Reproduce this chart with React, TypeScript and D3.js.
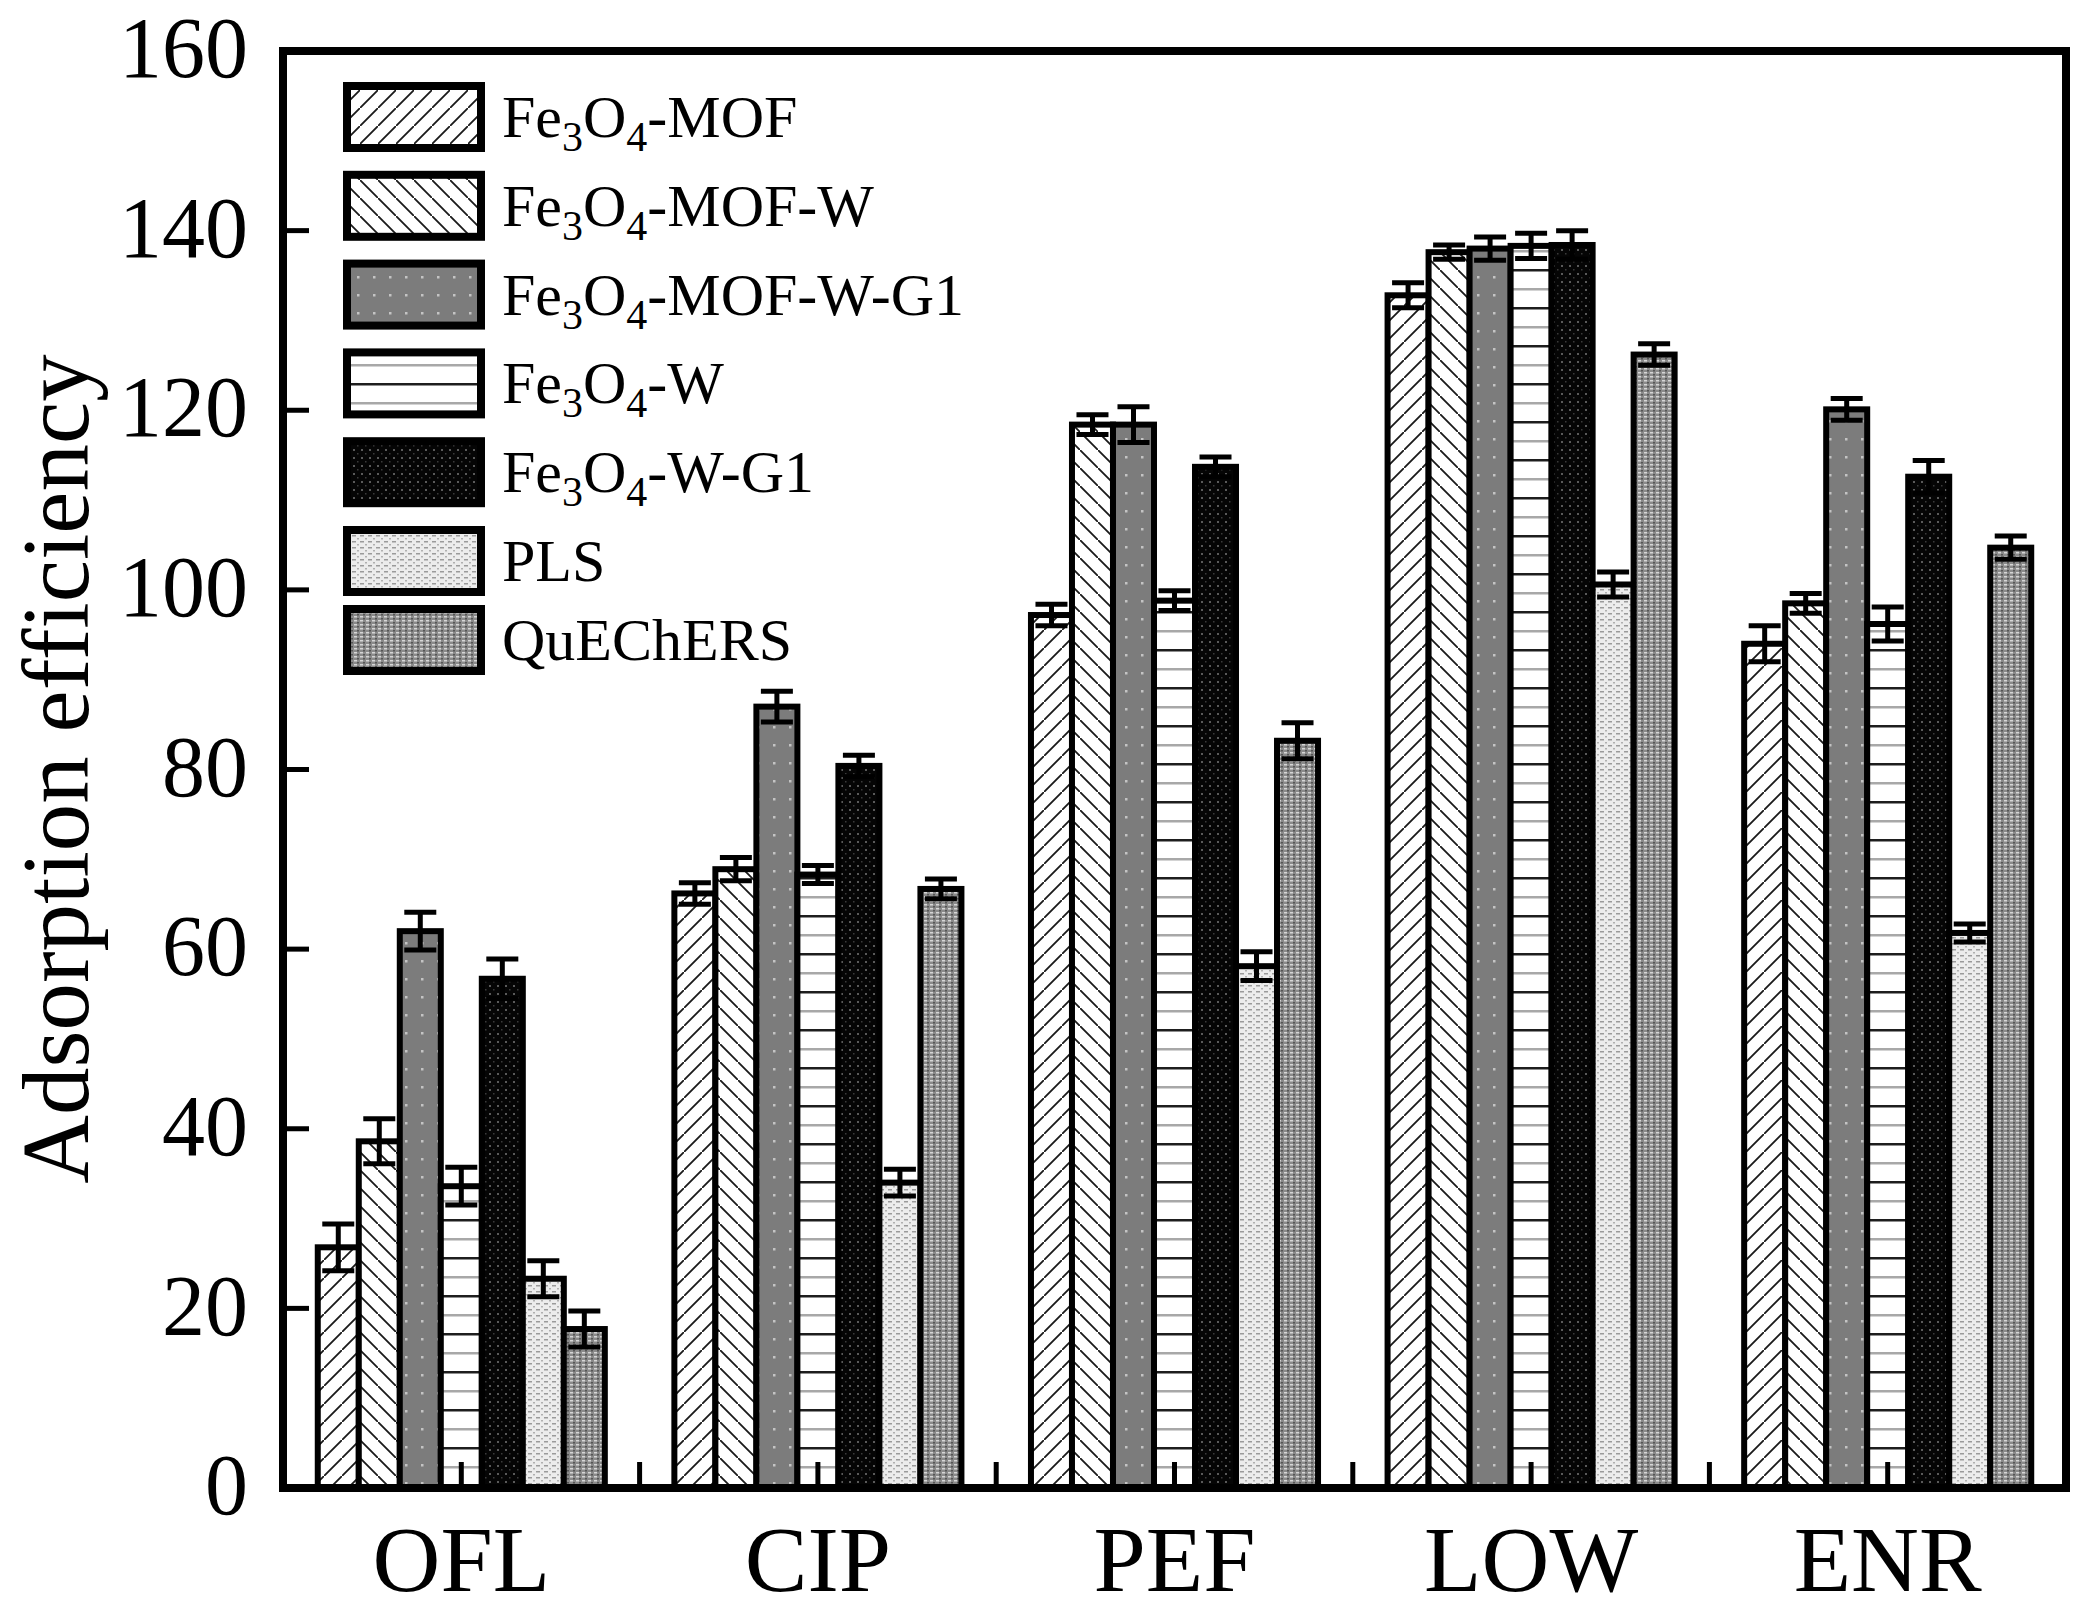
import React, { useEffect, useRef } from 'react';
import * as d3 from 'd3';

const CATEGORIES = ['OFL', 'CIP', 'PEF', 'LOW', 'ENR'];
const SERIES = ['Fe3O4-MOF', 'Fe3O4-MOF-W', 'Fe3O4-MOF-W-G1', 'Fe3O4-W', 'Fe3O4-W-G1', 'PLS', 'QuEChERS'];

// mean values per series, in CATEGORIES order
const MOF = [26.8, 66.2, 97.2, 132.8, 94.0];
const MOF_W = [38.6, 68.9, 118.4, 137.6, 98.5];
const MOF_W_G1 = [62.0, 87.0, 118.4, 138.0, 120.1];
const W = [33.6, 68.3, 98.8, 138.3, 96.2];
const W_G1 = [56.7, 80.4, 113.7, 138.4, 112.6];
const PLS = [23.3, 34.0, 58.1, 100.6, 61.8];
const QUECHERS = [17.7, 66.7, 83.2, 126.2, 104.7];

// error (±) per series
const MOF_ERR = [2.6, 1.2, 1.2, 1.4, 2.0];
const MOF_W_ERR = [2.5, 1.3, 1.1, 0.8, 1.1];
const MOF_W_G1_ERR = [2.1, 1.7, 2.0, 1.3, 1.2];
const W_ERR = [2.1, 1.0, 1.1, 1.4, 1.9];
const W_G1_ERR = [2.2, 1.2, 1.1, 1.6, 1.8];
const PLS_ERR = [2.0, 1.5, 1.6, 1.4, 1.0];
const QUECHERS_ERR = [2.0, 1.1, 2.0, 1.2, 1.3];

const MEANS = [MOF, MOF_W, MOF_W_G1, W, W_G1, PLS, QUECHERS];
const ERRORS = [MOF_ERR, MOF_W_ERR, MOF_W_G1_ERR, W_ERR, W_G1_ERR, PLS_ERR, QUECHERS_ERR];

const Y_TICKS = [0, 20, 40, 60, 80, 100, 120, 140, 160];

const FONT = '"Liberation Serif", "Times New Roman", serif';

const App: React.FC = () => {
  const svgRef = useRef<SVGSVGElement>(null);

  useEffect(() => {
    if (!svgRef.current) return;
    const svg = d3.select(svgRef.current);
    svg.selectAll('*').remove();

    const left = 283, right = 2066, top = 51, bottom = 1488;

    const y = d3.scaleLinear().domain([0, 160]).range([bottom, top]);
    const x0 = d3.scaleBand<string>()
      .domain(CATEGORIES)
      .range([left, right])
      .paddingInner(0.195)
      .paddingOuter(0.0975);
    const x1 = d3.scaleBand<number>()
      .domain(d3.range(SERIES.length))
      .range([0, x0.bandwidth()])
      .padding(0);

    // fill patterns
    const defs = svg.append('defs');

    const diag = (id: string, forward: boolean) => {
      const p = defs.append('pattern').attr('id', id)
        .attr('patternUnits', 'userSpaceOnUse').attr('width', 18).attr('height', 18);
      p.append('rect').attr('width', 18).attr('height', 18).attr('fill', '#fff');
      const d = forward
        ? 'M-2,20 L20,-2 M-6,4 L4,-6 M14,24 L24,14'
        : 'M-2,-2 L20,20 M-6,14 L4,24 M14,-6 L24,4';
      p.append('path').attr('d', d).attr('stroke', '#1a1a1a').attr('stroke-width', 1.8);
    };
    diag('pat0', true);
    diag('pat1', false);

    const p2 = defs.append('pattern').attr('id', 'pat2')
      .attr('patternUnits', 'userSpaceOnUse').attr('width', 16).attr('height', 18);
    p2.append('rect').attr('width', 16).attr('height', 18).attr('fill', '#7c7c7c');
    p2.append('rect').attr('x', 5).attr('y', 6).attr('width', 2.5).attr('height', 2.5).attr('fill', '#c4c4c4');

    const p3 = defs.append('pattern').attr('id', 'pat3')
      .attr('patternUnits', 'userSpaceOnUse').attr('width', 16).attr('height', 38);
    p3.append('rect').attr('width', 16).attr('height', 38).attr('fill', '#fff');
    p3.append('rect').attr('y', 3).attr('width', 16).attr('height', 2.5).attr('fill', '#1e1e1e');
    p3.append('rect').attr('y', 22).attr('width', 16).attr('height', 2.5).attr('fill', '#a8a8a8');

    const p4 = defs.append('pattern').attr('id', 'pat4')
      .attr('patternUnits', 'userSpaceOnUse').attr('width', 8).attr('height', 8);
    p4.append('rect').attr('width', 8).attr('height', 8).attr('fill', '#050505');
    p4.append('rect').attr('x', 1).attr('y', 1).attr('width', 2).attr('height', 2).attr('fill', '#5a5a5a');
    p4.append('rect').attr('x', 5).attr('y', 5).attr('width', 1.5).attr('height', 1.5).attr('fill', '#3a3a3a');

    const p5 = defs.append('pattern').attr('id', 'pat5')
      .attr('patternUnits', 'userSpaceOnUse').attr('width', 8).attr('height', 6);
    p5.append('rect').attr('width', 8).attr('height', 6).attr('fill', '#ececec');
    p5.append('rect').attr('x', 0).attr('y', 1).attr('width', 4).attr('height', 1.5).attr('fill', '#9a9a9a');
    p5.append('rect').attr('x', 5).attr('y', 4).attr('width', 2).attr('height', 1.5).attr('fill', '#b0b0b0');

    const p6 = defs.append('pattern').attr('id', 'pat6')
      .attr('patternUnits', 'userSpaceOnUse').attr('width', 6).attr('height', 4);
    p6.append('rect').attr('width', 6).attr('height', 4).attr('fill', '#8a8a8a');
    p6.append('rect').attr('x', 0).attr('y', 0).attr('width', 3).attr('height', 1.5).attr('fill', '#d6d6d6');
    p6.append('rect').attr('x', 3).attr('y', 2).attr('width', 2).attr('height', 1.5).attr('fill', '#555');

    // bars
    const barData = CATEGORIES.flatMap((c, ci) =>
      SERIES.map((s, si) => ({ c, si, v: MEANS[si][ci], e: ERRORS[si][ci] })));

    svg.append('g').selectAll('rect')
      .data(barData)
      .enter()
      .append('rect')
      .attr('x', d => x0(d.c)! + x1(d.si)!)
      .attr('y', d => y(d.v))
      .attr('width', x1.bandwidth())
      .attr('height', d => y(0) - y(d.v))
      .attr('fill', d => `url(#pat${d.si})`)
      .attr('stroke', '#000')
      .attr('stroke-width', 6);

    // error bars
    const capW = 32;
    const eg = svg.append('g').attr('stroke', '#000').attr('stroke-width', 5);
    barData.forEach(d => {
      const cx = x0(d.c)! + x1(d.si)! + x1.bandwidth() / 2;
      const y1 = y(d.v + d.e), y2 = y(d.v - d.e);
      eg.append('line').attr('x1', cx).attr('x2', cx).attr('y1', y1).attr('y2', y2);
      eg.append('line').attr('x1', cx - capW / 2).attr('x2', cx + capW / 2).attr('y1', y1).attr('y2', y1);
      eg.append('line').attr('x1', cx - capW / 2).attr('x2', cx + capW / 2).attr('y1', y2).attr('y2', y2);
    });

    // ticks
    const tg = svg.append('g').attr('stroke', '#000').attr('stroke-width', 5);
    Y_TICKS.forEach(t => {
      tg.append('line').attr('x1', left).attr('x2', left + 26).attr('y1', y(t)).attr('y2', y(t));
    });
    const xTickPos: number[] = [];
    CATEGORIES.forEach((c, i) => {
      xTickPos.push(x0(c)! + x0.bandwidth() / 2);
      if (i > 0) xTickPos.push(x0(c)! - (x0.step() - x0.bandwidth()) / 2);
    });
    xTickPos.forEach(px => {
      tg.append('line').attr('x1', px).attr('x2', px).attr('y1', bottom).attr('y2', bottom - 26);
    });

    // frame
    svg.append('rect')
      .attr('x', left).attr('y', top)
      .attr('width', right - left).attr('height', bottom - top)
      .attr('fill', 'none').attr('stroke', '#000').attr('stroke-width', 8);

    // y tick labels
    svg.append('g').selectAll('text')
      .data(Y_TICKS)
      .enter()
      .append('text')
      .attr('x', 248)
      .attr('y', d => y(d) - 3)
      .attr('dy', '0.34em')
      .attr('text-anchor', 'end')
      .style('font-family', FONT)
      .style('font-size', '86px')
      .text(d => d);

    // x labels
    svg.append('g').selectAll('text')
      .data(CATEGORIES)
      .enter()
      .append('text')
      .attr('x', d => x0(d)! + x0.bandwidth() / 2)
      .attr('y', 1591)
      .attr('text-anchor', 'middle')
      .style('font-family', FONT)
      .style('font-size', '94px')
      .text(d => d);

    // y title
    svg.append('text')
      .attr('transform', 'translate(88,769) rotate(-90)')
      .attr('text-anchor', 'middle')
      .style('font-family', FONT)
      .style('font-size', '95px')
      .text('Adsorption efficiency');

    // legend
    const lg = svg.append('g');
    SERIES.forEach((s, i) => {
      const rowTop = i < 6 ? 82 + i * 88.8 : 605;
      lg.append('rect')
        .attr('x', 347).attr('y', rowTop + 4)
        .attr('width', 134).attr('height', 62)
        .attr('fill', `url(#pat${i})`)
        .attr('stroke', '#000').attr('stroke-width', 8);
      const t = lg.append('text')
        .attr('x', 502).attr('y', rowTop + 55)
        .style('font-family', FONT)
        .style('font-size', '60px');
      if (s.startsWith('Fe3O4')) {
        t.append('tspan').text('Fe');
        t.append('tspan').attr('dy', 14).style('font-size', '42px').text('3');
        t.append('tspan').attr('dy', -14).text('O');
        t.append('tspan').attr('dy', 14).style('font-size', '42px').text('4');
        t.append('tspan').attr('dy', -14).text(s.slice(5));
      } else {
        t.text(s);
      }
    });
  }, []);

  return (
    <svg
      ref={svgRef}
      width={2095}
      height={1619}
      style={{ position: 'absolute', left: 0, top: 0, background: '#fff' }}
    />
  );
};

export default App;
